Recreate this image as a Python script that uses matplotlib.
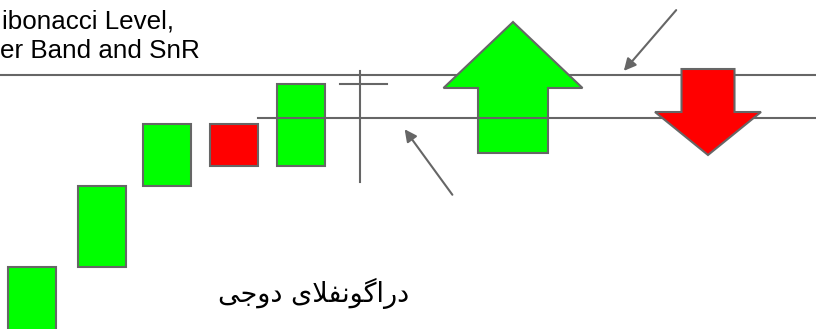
import matplotlib
matplotlib.use('Agg')  # no display
import matplotlib.pyplot as plt
from matplotlib.patches import Rectangle, FancyArrow

# candles (price units, x = bar time slot)
bar_x = [32, 102, 167, 234, 301]
opens = [-6, 62, 143, 205, 163]
closes = [62, 143, 205, 163, 245]

# dragonfly doji
doji_x = 360
doji_open = 245
doji_high = 258
doji_low = 147

# levels
resistance = 254
support = 211

# signal arrows: (x, start, end, shaft width, head width, head length)
up_signal = (513, 176, 307, 70, 139, 66)
down_signal = (708, 260, 174, 53, 106, 43)

title_lines = ["ibonacci Level,", "er Band and SnR"]
# "دراگونفلای دوجی" pre-shaped (presentation forms, visual order)
persian_label = "\uFBFD\uFE9F\uFEED\uFEA9 \uFBFC\uFEFC\uFED4\uFEE7\uFEEE\uFB94\uFE8D\uFEAD\uFEA9"

GREEN = '#00ff00'
RED = '#ff0000'
GREY = '#666666'

fig = plt.figure(figsize=(8.16, 3.29), dpi=100)
ax = fig.add_axes([0, 0, 1, 1])
ax.set_xlim(0, 816)
ax.set_ylim(0, 329)
ax.axis('off')

# level lines
ax.plot([0, 816], [resistance, resistance], color=GREY, lw=1.5, zorder=1)
ax.plot([258, 816], [support, support], color=GREY, lw=1.5, zorder=3)

body_w = 48
for x, o, c in zip(bar_x, opens, closes):
    col = GREEN if c >= o else RED
    ax.add_patch(Rectangle((x - body_w / 2, min(o, c)), body_w, abs(c - o),
                           facecolor=col, edgecolor=GREY, lw=1.5, zorder=2))

ax.plot([doji_x, doji_x], [doji_low, doji_high], color=GREY, lw=1.5, zorder=2)
ax.plot([doji_x - 20, doji_x + 27], [doji_open, doji_open], color=GREY, lw=1.5, zorder=2)

# up arrow sits under the support line, down arrow above it
for (x, y0, y1, w, hw, hl), col, z in [(up_signal, GREEN, 2), (down_signal, RED, 4)]:
    ax.add_patch(FancyArrow(x, y0, 0, y1 - y0, width=w, head_width=hw, head_length=hl,
                            length_includes_head=True, facecolor=col, edgecolor=GREY,
                            lw=1.5, zorder=z))

# pointers to the levels
ax.annotate('', xy=(622, resistance + 2), xytext=(678, 321),
            arrowprops=dict(arrowstyle='-|>', color=GREY, lw=1.5, mutation_scale=18))
ax.annotate('', xy=(403, support - 9), xytext=(454, 132),
            arrowprops=dict(arrowstyle='-|>', color=GREY, lw=1.5, mutation_scale=18))

ax.text(2, 301, title_lines[0], fontsize=18.7, family='Liberation Sans', va='baseline', color='black')
ax.text(0, 271, title_lines[1], fontsize=18.7, family='Liberation Sans', va='baseline', color='black')

ax.text(314, 27, persian_label, fontsize=19.5, family=['DejaVu Sans', 'Noto Sans'],
        ha='center', va='baseline', color='black')

plt.savefig('out.png', dpi=100)
plt.close(fig)
